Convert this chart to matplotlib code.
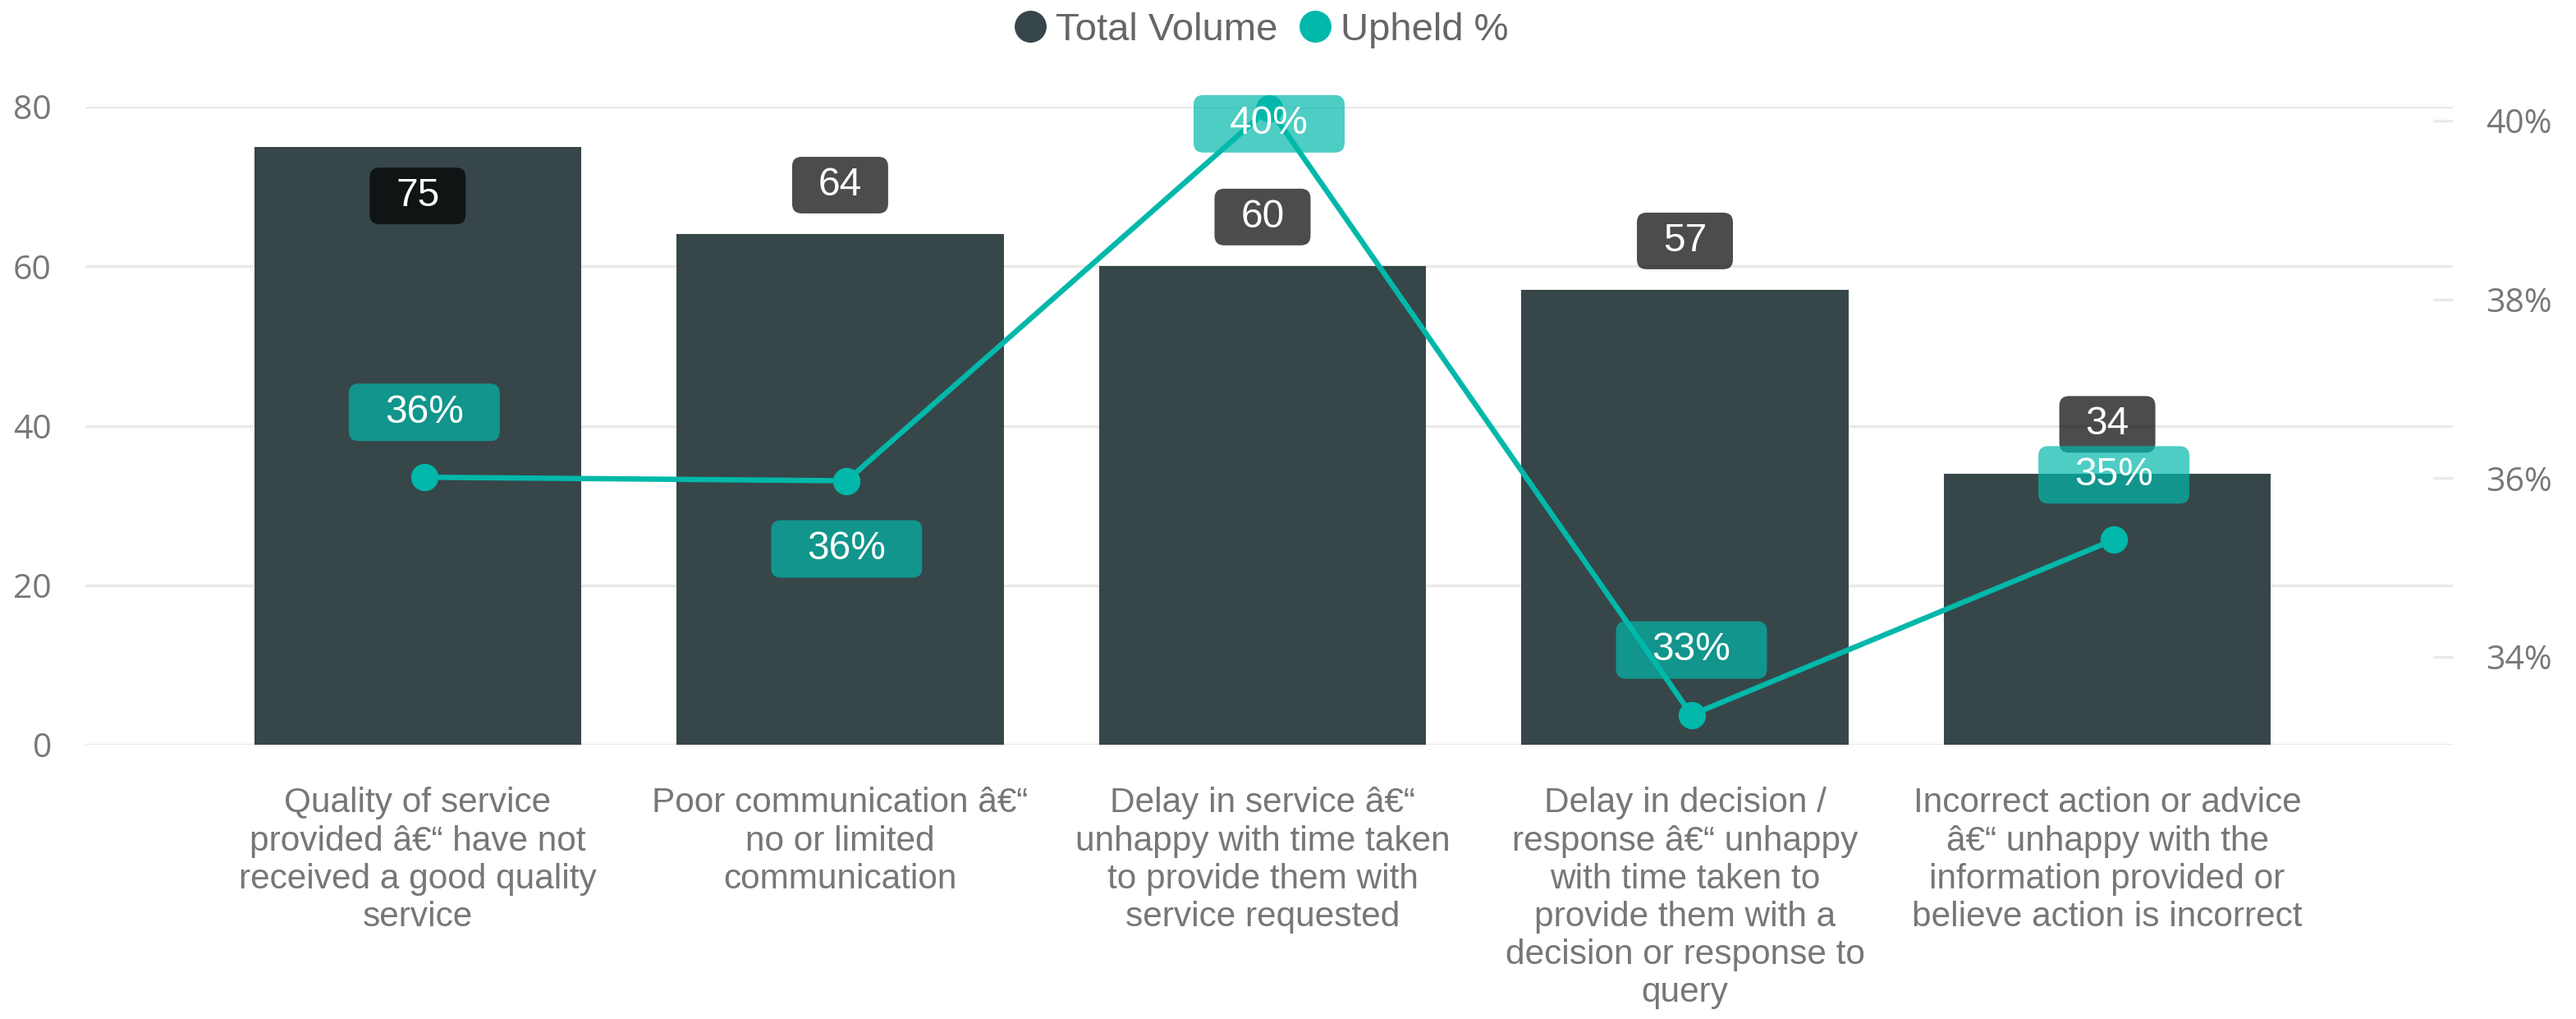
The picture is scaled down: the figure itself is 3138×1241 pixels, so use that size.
import matplotlib
matplotlib.use("Agg")
import matplotlib.pyplot as plt
import matplotlib.transforms as mtransforms
from matplotlib.lines import Line2D
from matplotlib.patches import BoxStyle
from matplotlib.ticker import FixedLocator, FuncFormatter

# ---- data ----
DASH = "\u00e2\u20ac\u201c"  # the broken en dash as it shows in the source
categories = [
    f"Quality of service\nprovided {DASH} have not\nreceived a good quality\nservice",
    f"Poor communication {DASH}\nno or limited\ncommunication",
    f"Delay in service {DASH}\nunhappy with time taken\nto provide them with\nservice requested",
    f"Delay in decision /\nresponse {DASH} unhappy\nwith time taken to\nprovide them with a\ndecision or response to\nquery",
    f"Incorrect action or advice\n{DASH} unhappy with the\ninformation provided or\nbelieve action is incorrect",
]
total_volume = [75, 64, 60, 57, 34]
upheld_pct = [36.01, 35.97, 40.14, 33.35, 35.31]
upheld_labels = ["36%", "36%", "40%", "33%", "35%"]
left_ticks = [0, 20, 40, 60, 80]
right_ticks = [34, 36, 38, 40]

# ---- styling ----
BAR_COLOR = "#374649"
LINE_COLOR = "#01B8AA"
GRID_COLOR = "#E9E9E9"
AXIS_TEXT = "#777777"
LEGEND_TEXT = "#666666"
TICK_FONT = "Open Sans"
LABEL_FONT = "Liberation Sans"

plt.rcParams["font.family"] = [TICK_FONT, "DejaVu Sans"]


def fixed_box(w, h, r=12):
    """Rounded box of a fixed pixel size centred on the text."""
    def box(x0, y0, width, height, mutation_size):
        cx = x0 + width / 2
        cy = y0 + height / 2
        return BoxStyle.Round(pad=0, rounding_size=r)(cx - w / 2, cy - h / 2, w, h, 1)
    return box


fig = plt.figure(figsize=(31.38, 12.41), dpi=100)
ax = fig.add_axes([0.0331, 0.2691, 0.9191, 0.6261])
ax2 = ax.twinx()

x = list(range(len(categories)))

# bars (left axis)
ax.bar(x, total_volume, width=0.774, color=BAR_COLOR, zorder=2)
ax.set_xlim(-0.787, 4.818)
ax.set_ylim(0, 80)
ax.yaxis.set_major_locator(FixedLocator(left_ticks))
ax.grid(axis="y", color=GRID_COLOR, linewidth=2.4, zorder=0)
ax.set_axisbelow(True)
ax.tick_params(axis="y", length=0, pad=29.5, labelsize=29.5, labelcolor=AXIS_TEXT)
ax.set_xticks(x)
ax.set_xticklabels(categories, fontsize=30.5, color=AXIS_TEXT, family=LABEL_FONT)
ax.tick_params(axis="x", length=0, pad=37)
for s in ax.spines.values():
    s.set_visible(False)

# line (right axis), shifted a few pixels right like the original
shift = mtransforms.offset_copy(ax2.transData, fig=fig, x=8, y=0, units="dots")
ax2.plot(x, upheld_pct, color=LINE_COLOR, linewidth=4.7, marker="o",
         markersize=23, transform=shift, clip_on=False, zorder=3)
ax2.set_ylim(33.015, 40.156)
ax2.yaxis.set_major_locator(FixedLocator(right_ticks))
ax2.yaxis.set_major_formatter(FuncFormatter(lambda v, p: f"{v:.0f}%"))
ax2.tick_params(axis="y", direction="in", length=17, width=2.4, color=GRID_COLOR,
                pad=29, labelsize=29.5, labelcolor=AXIS_TEXT)
for s in ax2.spines.values():
    s.set_visible(False)
ax2.patch.set_visible(False)

# bar value labels: above the bar, inside when it would hit the top
for i, v in enumerate(total_volume):
    off = -60 if v > 0.9 * ax.get_ylim()[1] else 60
    ax2.annotate(str(v), xy=(i, v), xycoords=ax.transData,
                 xytext=(0, off), textcoords="offset pixels",
                 ha="center", va="center", fontsize=34.5, family=LABEL_FONT,
                 color="white", zorder=5,
                 bbox=dict(boxstyle=fixed_box(117, 69), fc="black", ec="none", alpha=0.7))

# upheld % labels
pct_offsets = [79, -83, -19, 79, 79]
for i, (v, lab) in enumerate(zip(upheld_pct, upheld_labels)):
    ax2.annotate(lab, xy=(i, v), xytext=(8, pct_offsets[i]), textcoords="offset pixels",
                 ha="center", va="center", fontsize=34.5, family=LABEL_FONT,
                 color="white", zorder=6, annotation_clip=False,
                 bbox=dict(boxstyle=fixed_box(184, 70), fc=LINE_COLOR, ec="none", alpha=0.7))

# legend
handles = [
    Line2D([], [], ls="none", marker="o", markersize=27, color=BAR_COLOR),
    Line2D([], [], ls="none", marker="o", markersize=27, color=LINE_COLOR),
]
fig.legend(handles, ["Total Volume", "Upheld %"], loc="center", ncol=2,
           bbox_to_anchor=(0.4896, 0.9705), frameon=False,
           prop={"family": LABEL_FONT, "size": 34}, labelcolor=LEGEND_TEXT,
           handlelength=0.85, handletextpad=0.22, columnspacing=0.55,
           borderpad=0, borderaxespad=0)

fig.savefig("out.png", dpi=100, facecolor="white")
